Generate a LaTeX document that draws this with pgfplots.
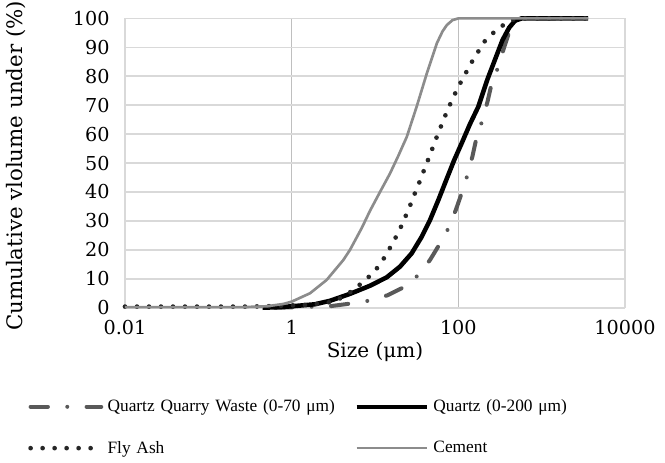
\documentclass[border=0pt]{standalone}
\usepackage{fontspec}
\setmainfont{DejaVu Serif}
\newfontfamily\legfont{Liberation Serif}
\usepackage{pgfplots}
\pgfplotsset{compat=1.18}
\usetikzlibrary{calc}
\definecolor{qqw}{RGB}{89,89,89}
\definecolor{flyash}{RGB}{38,38,38}
\definecolor{cem}{RGB}{140,140,140}
\definecolor{hgrid}{RGB}{217,217,217}
\definecolor{vgrid}{RGB}{191,191,191}
\begin{document}
\begin{tikzpicture}
\begin{axis}[
    name=ax,
    scale only axis,
    width=375pt, height=217pt,
    xmode=log, log basis x=10,
    xmin=0.01, xmax=10000, ymin=0, ymax=100,
    xtick={0.01,1,100,10000},
    xticklabels={0.01,1,100,10000},
    ytick={0,10,...,100},
    xminorticks=false, minor x tick num=0,
    major tick length=0pt,
    grid=major,
    x grid style={draw=vgrid, line width=1pt},
    y grid style={draw=hgrid, line width=1.2pt},
    axis line style={draw=hgrid, line width=1pt},
    clip=false,
    /pgf/number format/assume math mode=true,
    ticklabel style={font=\fontsize{14.4}{16}\selectfont},
    yticklabel style={xshift=-8pt},
    xticklabel style={yshift=-6pt},
    xlabel={Size (μm)},
    ylabel={Cumulative vlolume under (\%)},
    xlabel style={font=\fontsize{15}{17}\selectfont, at={(axis description cs:0.5,-0.152)}, anchor=center},
    ylabel style={font=\fontsize{16}{18}\selectfont, at={(axis description cs:-0.218,0.49)}, anchor=center},
    legend columns=2,
    legend cell align=left,
    legend image code/.code={\draw[#1] (0pt,0pt) -- (53pt,0pt);},
    legend style={at={(axis description cs:-0.194,-0.308)}, anchor=north west,
        draw=none, fill=none, inner sep=0pt, row sep=16.5pt,
        font=\legfont\fontsize{13}{15}\selectfont,
        nodes={text width=182pt, inner xsep=3pt}},
]
\addplot[color=qqw, line width=3pt, line cap=round,
    dash pattern=on 13pt off 14.5pt on 0pt off 14.5pt] coordinates {
    (0.631,0) (1.259,0.2) (3.020,0.6) (5.248,1.5) (8.318,2.4) (14.13,4.3)
    (22.91,7.3) (33.11,11.3) (45.71,16.5) (60.26,22.2) (75.86,27.4)
    (93.33,33.8) (110.9,40) (128.8,45.9) (147.9,52.4) (166.0,59)
    (195.0,64.9) (223.9,71.2) (251.2,77.5) (302.0,83.3) (354.8,90)
    (416.9,96) (501.2,99.5) (575.4,100) (3600,100)
};
\addlegendentry{Quartz Quarry Waste (0-70 μm)}
\addplot[color=black, line width=3.4pt] coordinates {
    (0.447,0) (0.708,0.2) (1,0.5) (1.905,1.2) (2.884,2.4) (5.012,4.8)
    (8.710,7.6) (13.80,10.5) (19.95,14.2) (27.54,18.8) (36.31,24.5)
    (45.71,30.3) (57.54,37.2) (72.44,44.5) (89.13,51) (112.2,57.5)
    (138.0,63.5) (173.8,69.5) (223.9,79) (281.8,86.5) (338.8,92.5)
    (407.4,96.8) (478.6,99.2) (575.4,100) (3600,100)
};
\addlegendentry{Quartz (0-200 μm)}
\addplot[color=flyash, line width=3.5pt, line cap=round,
    dash pattern=on 0pt off 9pt] coordinates {
    (0.01,0.4) (0.316,0.4) (0.631,0.6) (1,0.8) (1.585,1.0) (2.239,1.5)
    (3.162,2.1) (4.169,3.8) (5.495,6.1) (7.244,9) (9.419,11.9)
    (11.75,15.3) (14.26,19.4) (16.94,23.2) (19.95,27.2) (22.96,31.2)
    (26.36,35.3) (30.06,39.5) (34.12,43.4) (38.82,47.6) (44.26,51.8)
    (50.12,55.9) (56.75,60) (64.57,64) (74.13,68.3) (86.10,72.4)
    (100,76.4) (120.2,80.6) (141.3,84.4) (169.8,88.1) (204.2,91.9)
    (263.0,95) (346.7,97.7) (457.1,99.6) (524.8,100) (3600,100)
};
\addlegendentry{Fly Ash}
\addplot[color=cem, line width=2pt] coordinates {
    (0.01,0.2) (0.251,0.2) (0.501,0.5) (0.794,1.3) (1,2.1) (1.660,5)
    (2.630,9.6) (4.169,16.5) (5.012,20) (6.918,27.5) (8.710,33.5)
    (11.48,40) (15.14,46.4) (19.05,52.5) (24.10,59.1) (31.62,69.5)
    (41.88,81) (55.21,91.4) (64.57,95.5) (72.78,97.7) (85.11,99.4)
    (100,100) (3600,100)
};
\addlegendentry{Cement}
\end{axis}
\pgfresetboundingbox
\path ($(ax.south west)+(-93.75pt,-115.7pt)$) rectangle ($(ax.south west)+(405pt,230.8pt)$);
\end{tikzpicture}
\end{document}
